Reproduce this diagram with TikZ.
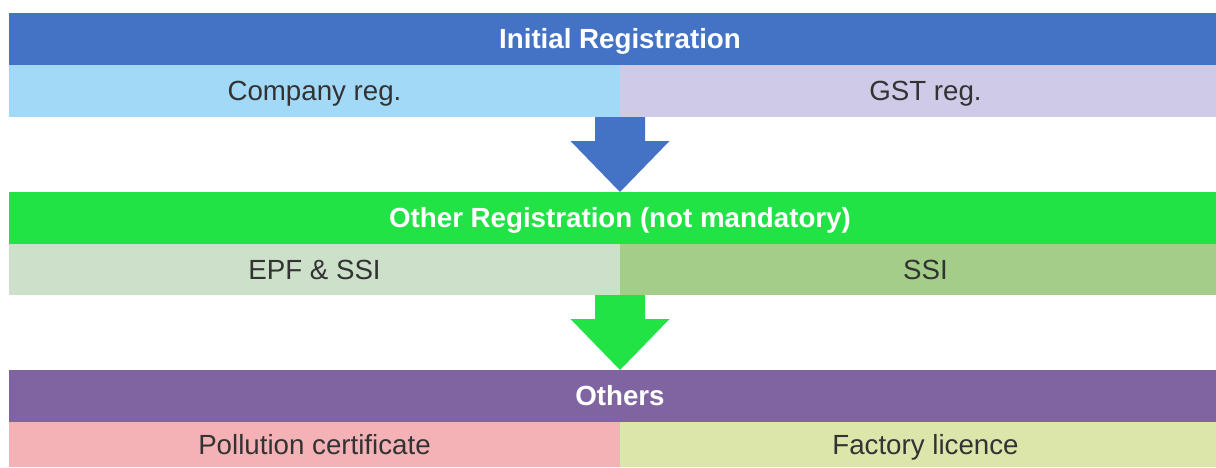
\documentclass[tikz,border=0pt]{standalone}
\usepackage{fontspec}
\setmainfont{Liberation Sans}
\usetikzlibrary{positioning}
\usetikzlibrary{calc}
\definecolor{hdrblue}{HTML}{4472C4}
\definecolor{cellblue}{HTML}{A2D9F7}
\definecolor{celllav}{HTML}{CFCAE7}
\definecolor{hdrgreen}{HTML}{22E345}
\definecolor{cellsage}{HTML}{CCE0CA}
\definecolor{cellgreen}{HTML}{A3CD88}
\definecolor{hdrpurple}{HTML}{8064A2}
\definecolor{cellpink}{HTML}{F4B2B7}
\definecolor{cellolive}{HTML}{DDE6AA}
\definecolor{txtgray}{HTML}{333333}

\begin{document}
\begin{tikzpicture}[x=1pt, y=-1pt,
    band/.style={anchor=north west, inner sep=0pt, outer sep=0pt, minimum height=52pt,
                 text height=19.8pt, text depth=0pt},
    header/.style={band, minimum width=1222pt, text=white,
                   font=\fontsize{27.7}{33}\selectfont\bfseries},
    cell/.style={band, minimum width=611pt, text=txtgray,
                 font=\fontsize{27.7}{33}\selectfont}]

    % Page frame
    \useasboundingbox (0,0) rectangle (1216,467);
    \clip (0,0) rectangle (1216,467);

    % Initial registration
    \node[header, fill=hdrblue] (initial) at (9,13) {Initial Registration};
    \node[cell, fill=cellblue] (company) at (initial.south west) {Company reg.};
    \node[cell, fill=celllav] (gst) at (company.north east) {GST reg.};

    % Other registration
    \node[header, fill=hdrgreen] (otherreg) at ($(company.south west)+(0,75)$) {Other Registration (not mandatory)};
    \node[cell, fill=cellsage, minimum height=51pt] (epf) at (otherreg.south west) {EPF \& SSI};
    \node[cell, fill=cellgreen, minimum height=51pt] (ssi) at (epf.north east) {SSI};

    % Others
    \node[header, fill=hdrpurple] (others) at ($(epf.south west)+(0,75)$) {Others};
    \node[cell, fill=cellpink, minimum height=45pt] (pollution) at (others.south west) {Pollution certificate};
    \node[cell, fill=cellolive, minimum height=45pt] (factory) at (pollution.north east) {Factory licence};

    % Block arrow 1
    \fill[hdrblue] ($(company.south east)+(-25,0)$) -- ++(0,24) -- ++(-24.5,0)
        -- (otherreg.north) -- ($(company.south east)+(49.5,24)$) -- ++(-24.5,0)
        -- ($(company.south east)+(25,0)$) -- cycle;

    % Block arrow 2
    \fill[hdrgreen] ($(epf.south east)+(-25,0)$) -- ++(0,24) -- ++(-24.5,0)
        -- (others.north) -- ($(epf.south east)+(49.5,24)$) -- ++(-24.5,0)
        -- ($(epf.south east)+(25,0)$) -- cycle;

\end{tikzpicture}
\end{document}
